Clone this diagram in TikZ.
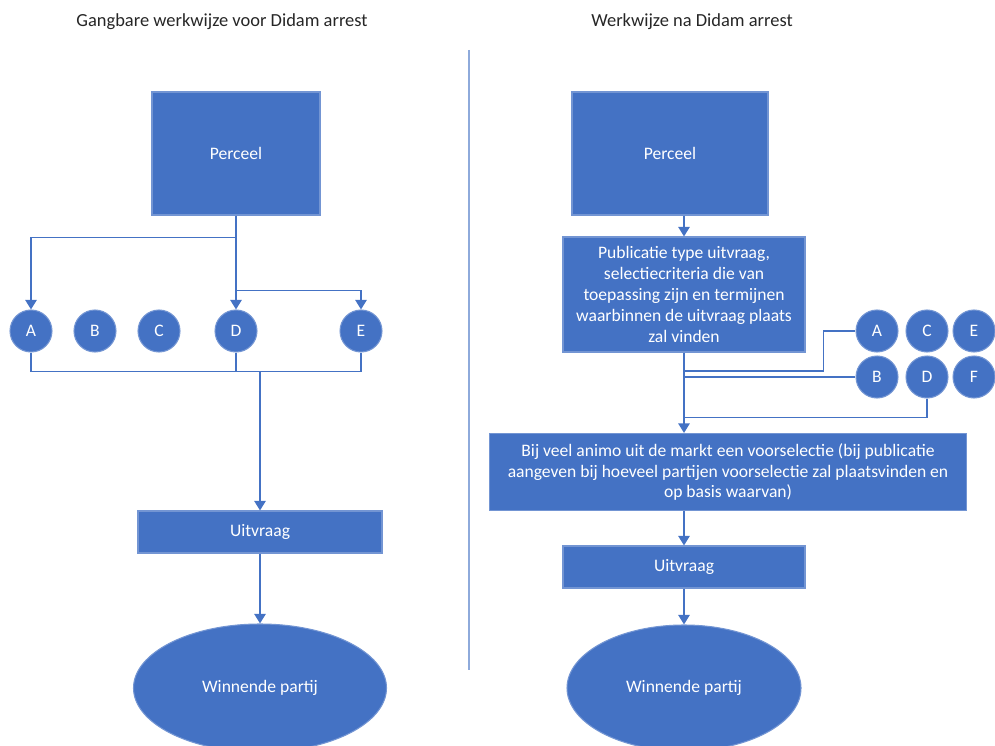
\documentclass[tikz,border=0pt]{standalone}
\usepackage{fontspec}
\setmainfont{Carlito}
\usepackage{tikz}
\usetikzlibrary{shapes.geometric, positioning, arrows.meta}
\usepackage{xcolor}
\definecolor{OfficeBlue}{HTML}{4472C4}
\definecolor{OfficeLine}{HTML}{8EAADB}
\definecolor{TitleGray}{HTML}{262626}

\begin{document}
\begin{tikzpicture}[every node/.style={font=\fontsize{10}{11.9}\selectfont},
    blok/.style={draw=OfficeBlue!75!white, line width=0.6pt, fill=OfficeBlue, text=white, align=center},
    partij/.style={circle, draw=OfficeBlue!75!white, line width=0.6pt, fill=OfficeBlue, text=white, minimum size=0.84cm, inner sep=0pt},
    winnaar/.style={ellipse, draw=OfficeBlue!75!white, line width=0.6pt, fill=OfficeBlue, text=white},
    pijl/.style={-{Triangle[width=6.5pt,length=5.5pt]}, OfficeBlue, line width=1pt},
    lijn/.style={OfficeBlue, line width=1pt}]
            \useasboundingbox (0,0) rectangle (19.9,-14.9);
            \clip (0,0) rectangle (19.9,-14.9);

            % Titles
            \node[TitleGray, font=\fontsize{10.5}{12}\selectfont] (titelL) at (4.44, -0.44) {Gangbare werkwijze voor Didam arrest};
            \node[TitleGray, font=\fontsize{10.5}{12}\selectfont] (titelR) at (13.84, -0.44) {Werkwijze na Didam arrest};
            \draw[OfficeLine, line width=1pt] (9.38, -1.0) -- (9.38, -13.4);

            % Left: current way of working
            \node[blok, minimum width=3.36cm, minimum height=2.46cm] (perceelL) at (4.72, -3.07) {Perceel};
            \node[partij] (aL) at (0.62, -6.62) {A};
            \node[partij] (bL) at (1.90, -6.62) {B};
            \node[partij] (cL) at (3.18, -6.62) {C};
            \node[partij] (dL) at (4.72, -6.62) {D};
            \node[partij] (eL) at (7.22, -6.62) {E};
            \coordinate (samenL) at (5.2, -7.42);
            \node[blok, minimum width=4.88cm, minimum height=0.84cm] (uitvraagL) at (5.2, -10.64) {Uitvraag};
            \node[winnaar, minimum width=5.06cm, minimum height=2.56cm] (winnaarL) at (5.2, -13.76) {Winnende partij};

            % Right: after Didam
            \node[blok, minimum width=3.92cm, minimum height=2.46cm] (perceelR) at (13.4, -3.07) {Perceel};
            \node[blok, minimum width=4.84cm, minimum height=2.3cm] (publicatie) at (13.68, -5.89)
                {Publicatie type uitvraag,\\ selectiecriteria die van\\ toepassing zijn en termijnen\\ waarbinnen de uitvraag plaats\\ zal vinden};
            \node[partij] (aR) at (17.54, -6.62) {A};
            \node[partij] (cR) at (18.54, -6.62) {C};
            \node[partij] (eR) at (19.48, -6.62) {E};
            \node[partij] (bR) at (17.54, -7.54) {B};
            \node[partij] (dR) at (18.54, -7.54) {D};
            \node[partij] (fR) at (19.48, -7.54) {F};
            \node[blok, minimum width=9.54cm, minimum height=1.54cm] (voorselectie) at (14.56, -9.44)
                {Bij veel animo uit de markt een voorselectie (bij publicatie\\ aangeven bij hoeveel partijen voorselectie zal plaatsvinden en\\ op basis waarvan)};
            \node[blok, minimum width=4.84cm, minimum height=0.84cm] (uitvraagR) at (13.68, -11.34) {Uitvraag};
            \node[winnaar, minimum width=4.68cm, minimum height=2.52cm] (winnaarR) at (13.68, -13.76) {Winnende partij};

            % Arrows left
            \draw[pijl] (perceelL.south) -- ++(0,-0.44) -| (aL.north);
            \draw[pijl] (perceelL.south) -- (dL.north);
            \draw[pijl] (perceelL.south) ++(0,-1.5) -| (eL.north);
            \draw[lijn] (aL.south) -- ++(0,-0.38) -| (eL.south);
            \draw[lijn] (dL.south) -- ++(0,-0.38);
            \draw[pijl] (samenL) -- (uitvraagL.north);
            \draw[pijl] (uitvraagL.south) -- (winnaarL.north);

            % Arrows right
            \draw[pijl] (publicatie.north |- perceelR.south) -- (publicatie.north);
            \draw[lijn] (aR.west) -- ++(-0.64,0) -- ++(0,-0.8) -| (publicatie.south);
            \draw[lijn] (bR.west) -| (publicatie.south);
            \draw[lijn] (dR.south) -- ++(0,-0.38) -| (publicatie.south);
            \draw[pijl] (publicatie.south) -- (publicatie.south |- voorselectie.north);
            \draw[pijl] (uitvraagR.north |- voorselectie.south) -- (uitvraagR.north);
            \draw[pijl] (uitvraagR.south) -- (winnaarR.north);
        \end{tikzpicture}
\end{document}
